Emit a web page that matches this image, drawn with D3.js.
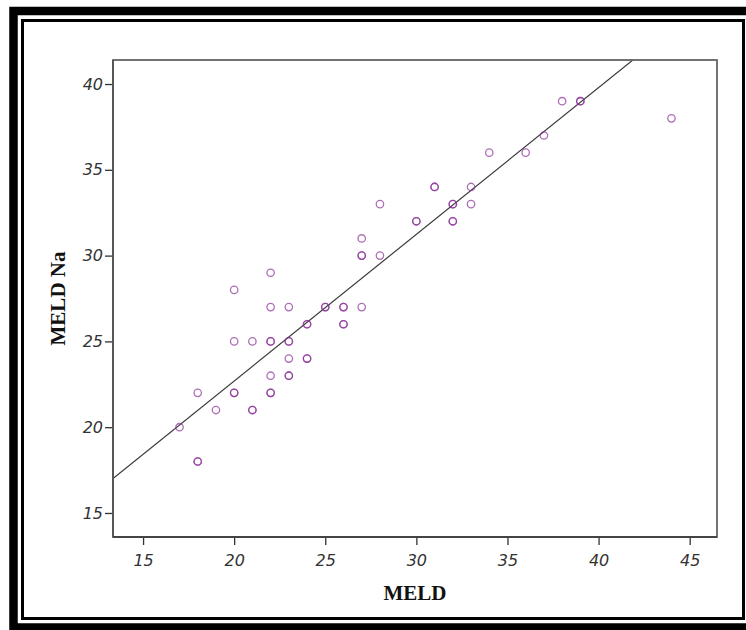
<!DOCTYPE html>
<html>
<head>
<meta charset="utf-8">
<script src="https://cdn.jsdelivr.net/npm/d3@7"></script>
<style>
  html, body { margin: 0; padding: 0; background: #fff; }
  svg { display: block; }
</style>
</head>
<body>
<svg id="chart" width="746" height="630"></svg>
<script>
// MELD values (x) and MELD Na values (y), one entry per patient (duplicates repeated)
const meld   = [17, 18, 18, 18, 19, 20, 20, 20, 20, 21, 21, 21, 22, 22, 22, 22, 22, 22, 22,
                23, 23, 23, 23, 23, 23, 24, 24, 24, 24, 25, 25, 26, 26, 26, 26, 27, 27, 27, 27,
                28, 28, 30, 30, 31, 31, 32, 32, 32, 32, 33, 33, 34, 36, 37, 38, 39, 39, 44];
const meldNa = [20, 22, 18, 18, 21, 28, 25, 22, 22, 25, 21, 21, 29, 27, 25, 25, 23, 22, 22,
                27, 25, 25, 24, 23, 23, 26, 26, 24, 24, 27, 27, 27, 27, 26, 26, 31, 30, 30, 27,
                33, 30, 32, 32, 34, 34, 33, 33, 32, 32, 34, 33, 36, 36, 37, 39, 39, 39, 38];
const xTicks = [15, 20, 25, 30, 35, 40, 45];
const yTicks = [15, 20, 25, 30, 35, 40];
const xDomain = [13.35, 46.5];
const yDomain = [13.6, 41.4];
// fit line: MELD Na = slope * MELD + intercept
const fitSlope = 0.855;
const fitIntercept = 5.59;
const xTitle = "MELD";
const yTitle = "MELD Na";

const svg = d3.select("#chart");
const plot = { left: 113, top: 60, right: 717, bottom: 537 };

// outer decorative frame
svg.append("rect").attr("x", 13.5).attr("y", 11).attr("width", 800).attr("height", 616.5)
  .attr("fill", "none").attr("stroke", "#000").attr("stroke-width", 8.5);
svg.append("rect").attr("x", 22.5).attr("y", 20.5).attr("width", 721).attr("height", 598)
  .attr("fill", "#fff").attr("stroke", "#000").attr("stroke-width", 3);

const x = d3.scaleLinear().domain(xDomain).range([plot.left, plot.right]);
const y = d3.scaleLinear().domain(yDomain).range([plot.bottom, plot.top]);

// plot frame
svg.append("rect").attr("x", plot.left).attr("y", plot.top)
  .attr("width", plot.right - plot.left).attr("height", plot.bottom - plot.top)
  .attr("fill", "#fff").attr("stroke", "#6a6a6a").attr("stroke-width", 1.5);

// axes
const xAxis = svg.append("g").attr("transform", `translate(0,${plot.bottom})`)
  .call(d3.axisBottom(x).tickValues(xTicks).tickSize(8).tickPadding(7).tickFormat(d3.format("d")));
const yAxis = svg.append("g").attr("transform", `translate(${plot.left},0)`)
  .call(d3.axisLeft(y).tickValues(yTicks).tickSize(8).tickPadding(2).tickFormat(d3.format("d")));
[xAxis, yAxis].forEach(g => {
  g.select(".domain").remove();
  g.selectAll(".tick line").attr("stroke", "#333").attr("stroke-width", 1.3);
  g.selectAll(".tick text").attr("fill", "#333")
    .style("font-family", "'DejaVu Sans', sans-serif").style("font-style", "italic")
    .style("font-size", "16px");
});
xAxis.selectAll(".tick text").attr("dy", "0.9em");

// clip for fit line
svg.append("clipPath").attr("id", "clip").append("rect")
  .attr("x", plot.left).attr("y", plot.top)
  .attr("width", plot.right - plot.left).attr("height", plot.bottom - plot.top);

svg.append("line").attr("clip-path", "url(#clip)")
  .attr("x1", x(xDomain[0])).attr("y1", y(fitSlope * xDomain[0] + fitIntercept))
  .attr("x2", x(xDomain[1])).attr("y2", y(fitSlope * xDomain[1] + fitIntercept))
  .attr("stroke", "#3a3a3a").attr("stroke-width", 1.2);

// points
svg.append("g").selectAll("circle").data(d3.range(meld.length)).join("circle")
  .attr("cx", i => x(meld[i])).attr("cy", i => y(meldNa[i])).attr("r", 3.7)
  .attr("fill", "none").attr("stroke", "#8a3197").attr("stroke-opacity", 0.7)
  .attr("stroke-width", 1.3);

// plot frame lines on top
svg.append("rect").attr("x", plot.left).attr("y", plot.top)
  .attr("width", plot.right - plot.left).attr("height", plot.bottom - plot.top)
  .attr("fill", "none").attr("stroke", "#6a6a6a").attr("stroke-width", 1.5);
svg.append("line").attr("x1", plot.left).attr("x2", plot.left).attr("y1", plot.top).attr("y2", plot.bottom)
  .attr("stroke", "#555").attr("stroke-width", 1.8);
svg.append("line").attr("x1", plot.left).attr("x2", plot.right).attr("y1", plot.bottom).attr("y2", plot.bottom)
  .attr("stroke", "#444").attr("stroke-width", 1.8);

// axis titles
svg.append("text").attr("x", (plot.left + plot.right) / 2).attr("y", 600)
  .attr("text-anchor", "middle").style("font-family", "'Liberation Serif', serif")
  .style("font-weight", "bold").style("font-size", "21px").attr("fill", "#111").text(xTitle);
svg.append("text").attr("transform", `translate(65,${(plot.top + plot.bottom) / 2}) rotate(-90)`)
  .attr("text-anchor", "middle").style("font-family", "'Liberation Serif', serif")
  .style("font-weight", "bold").style("font-size", "21px").attr("fill", "#111").text(yTitle);
</script>
</body>
</html>
